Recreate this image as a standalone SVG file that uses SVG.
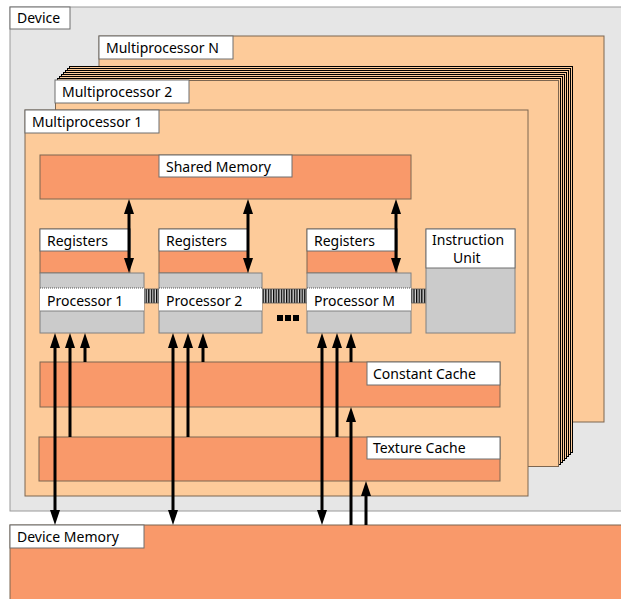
<svg xmlns="http://www.w3.org/2000/svg" width="621" height="599" viewBox="0 0 621 599">
<style>
text{font-family:"Noto Sans","Open Sans","DejaVu Sans",sans-serif;font-size:14px;fill:#000}
.mp{fill:#FDCB9A;stroke:#7d6650;stroke-width:1}
.layer{fill:#FDCB9A;stroke:#000;stroke-width:1;shape-rendering:crispEdges}
.lbl{fill:#fff;stroke:#6e6e6e;stroke-width:1}
.org{fill:#F9996A;stroke:#7d6650;stroke-width:1}
.gry{fill:#CBCBCB;stroke:#808080;stroke-width:1}
.hatch{fill:url(#hatch);stroke:#555;stroke-width:0.8}
.arr{stroke:#000;stroke-width:3;fill:none}
.a1{marker-end:url(#ah)}
.a2{marker-start:url(#ah);marker-end:url(#ah)}
</style>
<defs>
<marker id="ah" markerUnits="userSpaceOnUse" viewBox="0 0 15 10" refX="5" refY="5" markerWidth="15" markerHeight="10" orient="auto-start-reverse">
<path d="M0,0 L15,5 L0,10 z" fill="#000"/>
</marker>
<pattern id="hatch" patternUnits="userSpaceOnUse" width="2.6" height="4">
<rect width="2.6" height="4" fill="#d8d8d8"/>
<rect width="1.3" height="4" fill="#000"/>
</pattern>
</defs>

<g id="device">
<rect x="10" y="7" width="630" height="504" fill="#E6E6E6" stroke="#9a9a9a"/>
<rect class="lbl" x="10" y="7" width="60" height="22"/>
<text x="17" y="23">Device</text>
</g>

<g id="mpN">
<rect class="mp" x="99" y="36" width="505" height="386"/>
<rect class="lbl" x="99" y="36" width="134" height="23"/>
<text x="106" y="53">Multiprocessor N</text>
</g>

<g id="mpStack">
<rect class="layer" x="69.5" y="66.5" width="503" height="386"/>
<rect class="layer" x="67.5" y="68.5" width="503" height="386"/>
<rect class="layer" x="65.5" y="70.5" width="503" height="386"/>
<rect class="layer" x="63.5" y="72.5" width="503" height="386"/>
<rect class="layer" x="61.5" y="74.5" width="503" height="386"/>
<rect class="layer" x="59.5" y="76.5" width="503" height="386"/>
<rect class="layer" x="57.5" y="78.5" width="503" height="386"/>
</g>

<g id="mp2">
<rect class="mp" x="55.5" y="80.5" width="503" height="386"/>
<rect class="lbl" x="55" y="80" width="134" height="23"/>
<text x="62" y="97">Multiprocessor 2</text>
</g>

<g id="mp1">
<rect class="mp" x="25" y="110" width="503" height="386"/>
<rect class="lbl" x="25" y="110" width="134" height="23"/>
<text x="32" y="127">Multiprocessor 1</text>
</g>

<g id="sharedMemory">
<rect class="org" x="40" y="155" width="371" height="44"/>
<rect class="lbl" x="159" y="155" width="133" height="22"/>
<text x="166" y="172">Shared Memory</text>
</g>

<g id="registers1">
<rect class="org" x="40" y="229" width="90" height="44"/>
<rect class="lbl" x="40" y="229" width="90" height="22"/>
<text x="47" y="246">Registers</text>
</g>
<g id="registers2">
<rect class="org" x="159" y="229" width="89" height="44"/>
<rect class="lbl" x="159" y="229" width="89" height="22"/>
<text x="166" y="246">Registers</text>
</g>
<g id="registersM">
<rect class="org" x="307" y="229" width="90" height="44"/>
<rect class="lbl" x="307" y="229" width="90" height="22"/>
<text x="314" y="246">Registers</text>
</g>

<g id="busLinks">
<rect class="hatch" x="144" y="289" width="15" height="14"/>
<rect class="hatch" x="262" y="289" width="45" height="14"/>
<rect class="hatch" x="411" y="289" width="15" height="14"/>
</g>

<g id="processor1">
<rect class="gry" x="40" y="273" width="104" height="60"/>
<rect x="40" y="288" width="104" height="23" fill="#fff"/>
<line x1="40" y1="311" x2="144" y2="311" stroke="#808080"/>
<line x1="40" y1="288" x2="144" y2="288" stroke="#555" stroke-dasharray="1,1"/>
<text x="47" y="306">Processor 1</text>
</g>
<g id="processor2">
<rect class="gry" x="159" y="273" width="103" height="60"/>
<rect x="159" y="288" width="103" height="23" fill="#fff"/>
<line x1="159" y1="311" x2="262" y2="311" stroke="#808080"/>
<line x1="159" y1="288" x2="262" y2="288" stroke="#555" stroke-dasharray="1,1"/>
<text x="166" y="306">Processor 2</text>
</g>
<g id="processorM">
<rect class="gry" x="307" y="273" width="104" height="60"/>
<rect x="307" y="288" width="104" height="23" fill="#fff"/>
<line x1="307" y1="311" x2="411" y2="311" stroke="#808080"/>
<line x1="307" y1="288" x2="411" y2="288" stroke="#555" stroke-dasharray="1,1"/>
<text x="314" y="306">Processor M</text>
</g>

<g id="ellipsis">
<rect x="277" y="315" width="6" height="6" fill="#000"/>
<rect x="285" y="315" width="6" height="6" fill="#000"/>
<rect x="293" y="315" width="6" height="6" fill="#000"/>
</g>

<g id="instructionUnit">
<rect class="gry" x="426" y="229" width="89" height="104"/>
<rect class="lbl" x="426" y="229" width="89" height="39"/>
<text x="432" y="245" font-size="13.5">Instruction</text>
<text x="453" y="263" font-size="13.5">Unit</text>
</g>

<g id="constantCache">
<rect class="org" x="40" y="362" width="460" height="45"/>
<rect class="lbl" x="367" y="362" width="133" height="23"/>
<text x="373" y="379">Constant Cache</text>
</g>

<g id="textureCache">
<rect class="org" x="39" y="437" width="461" height="44"/>
<rect class="lbl" x="367" y="437" width="133" height="22"/>
<text x="373" y="453">Texture Cache</text>
</g>

<g id="deviceMemory">
<rect class="org" x="10" y="525" width="630" height="90" stroke="#888"/>
<rect class="lbl" x="10" y="525" width="134" height="23"/>
<text x="17" y="542">Device Memory</text>
</g>

<g id="connectors">
<line class="arr a2" x1="129" y1="209" x2="129" y2="263"/>
<line class="arr a2" x1="248" y1="209" x2="248" y2="263"/>
<line class="arr a2" x1="396" y1="209" x2="396" y2="263"/>

<line class="arr a2" x1="55" y1="343" x2="55" y2="515"/>
<line class="arr a1" x1="70" y1="437" x2="70" y2="343"/>
<line class="arr a1" x1="85" y1="362" x2="85" y2="343"/>

<line class="arr a2" x1="173" y1="343" x2="173" y2="515"/>
<line class="arr a1" x1="188" y1="437" x2="188" y2="343"/>
<line class="arr a1" x1="203" y1="362" x2="203" y2="343"/>

<line class="arr a2" x1="322" y1="343" x2="322" y2="515"/>
<line class="arr a1" x1="337" y1="437" x2="337" y2="343"/>
<line class="arr a1" x1="351" y1="362" x2="351" y2="343"/>

<line class="arr a1" x1="351" y1="525" x2="351" y2="417"/>
<line class="arr a1" x1="366" y1="525" x2="366" y2="491"/>
</g>
</svg>
